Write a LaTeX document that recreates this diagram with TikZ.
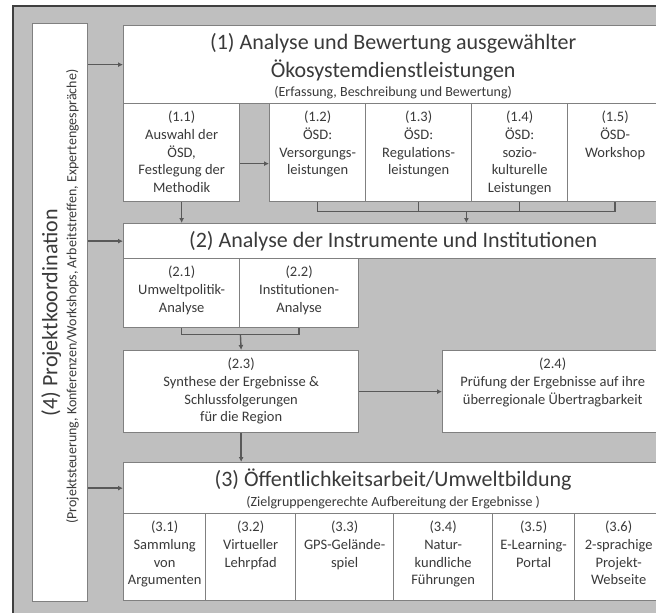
\documentclass[tikz,border=0pt]{standalone}
\usepackage{fontspec}
\setmainfont{Carlito}
\usetikzlibrary{arrows.meta,calc,positioning}
\definecolor{framegray}{HTML}{BFBFBF}
\definecolor{framedark}{HTML}{3F3F3F}
\definecolor{boxline}{HTML}{808080}
\definecolor{linkgray}{HTML}{595959}
\definecolor{textgray}{HTML}{3A3A3A}
\newcommand{\headfont}{\fontsize{22bp}{28bp}\selectfont}
\newcommand{\subfont}{\fontsize{14bp}{17.7bp}\selectfont}
\newcommand{\cellfont}{\fontsize{14.5bp}{17.7bp}\selectfont}
\newcommand{\cell}[3]{\parbox[c][#2][t]{#1}{\centering\rule{0pt}{18bp}#3}}

\begin{document}
\begin{tikzpicture}[x=1bp, y=-1bp,
  box/.style={draw=boxline, fill=white, line width=1.3bp, inner sep=0pt, anchor=north west, text=textgray, font=\cellfont},
  arr/.style={draw=linkgray, line width=1.4bp, -{Latex[length=5bp,width=5bp]}},
  brace/.style={draw=linkgray, line width=1.4bp}]
  \useasboundingbox (0,0) rectangle (656,613);
  \fill[framegray] (13,6) rectangle (670,620);
  \draw[framedark, line width=1.5bp] (13,625) -- (13,6) -- (670,6);

  % (4) Projektkoordination
  \node[box] (koord) at (32,23) {\parbox[c][578bp][c]{55bp}{\centering\rotatebox{90}{\parbox{570bp}{\centering\subfont
    {\headfont (4) Projektkoordination\hspace*{8bp}}\\[1.3bp]
    \hspace*{32bp}(Projektsteuerung, Konferenzen/Workshops, Arbeitstreffen, Expertengespräche)}}}};

  % (1)
  \node[box] (h1) at (123,25) {\cell{539bp}{78bp}{\headfont\rule{0pt}{24bp}(1) Analyse und Bewertung ausgewählter\\
    Ökosystemdienstleistungen\\[-9bp]{\subfont (Erfassung, Beschreibung und Bewertung)}}};
  \node[box] (b11) at (123,103) {\cell{116bp}{98bp}{(1.1)\\Auswahl der\\ÖSD,\\Festlegung der\\Methodik}};
  \node[box] (b12) at (269,103) {\cell{96bp}{98bp}{(1.2)\\ÖSD:\\Versorgungs-\\leistungen}};
  \node[box] (b13) at (365,103) {\cell{106bp}{98bp}{(1.3)\\ÖSD:\\Regulations-\\leistungen}};
  \node[box] (b14) at (471,103) {\cell{96bp}{98bp}{(1.4)\\ÖSD:\\sozio-\\kulturelle\\Leistungen}};
  \node[box] (b15) at (567,103) {\cell{95bp}{98bp}{(1.5)\\ÖSD-\\Workshop}};

  % (2)
  \node[box] (h2) at (123,223) {\cell{539bp}{35bp}{\headfont\rule{0pt}{23.5bp}(2) Analyse der Instrumente und Institutionen}};
  \node[box] (b21) at (123,258) {\cell{116bp}{69bp}{(2.1)\\Umweltpolitik-\\Analyse}};
  \node[box] (b22) at (239,258) {\cell{119bp}{69bp}{(2.2)\\Institutionen-\\Analyse}};
  \node[box] (b23) at (123,350) {\cell{235bp}{82bp}{(2.3)\\Synthese der Ergebnisse \&\\Schlussfolgerungen\\für die Region}};
  \node[box] (b24) at (442,350) {\cell{220bp}{82bp}{(2.4)\\Prüfung der Ergebnisse auf ihre\\überregionale Übertragbarkeit}};

  % (3)
  \node[box] (h3) at (123,462) {\cell{539bp}{51bp}{\headfont\rule{0pt}{24bp}(3) Öffentlichkeitsarbeit/Umweltbildung\\[-8.5bp]
    {\subfont (Zielgruppengerechte Aufbereitung der Ergebnisse )}}};
  \node[box] (b31) at (123,513) {\cell{82bp}{87bp}{(3.1)\\Sammlung\\von\\Argumenten}};
  \node[box] (b32) at (205,513) {\cell{90bp}{87bp}{(3.2)\\Virtueller\\Lehrpfad}};
  \node[box] (b33) at (295,513) {\cell{98bp}{87bp}{(3.3)\\GPS-Gelände-\\spiel}};
  \node[box] (b34) at (393,513) {\cell{99bp}{87bp}{(3.4)\\Natur-\\kundliche\\Führungen}};
  \node[box] (b35) at (492,513) {\cell{82bp}{87bp}{(3.5)\\E-Learning-\\Portal}};
  \node[box] (b36) at (574,513) {\cell{88bp}{87bp}{(3.6)\\2-sprachige\\Projekt-\\Webseite}};

  \draw[arr] (koord.east |- h1.west) -- (h1.west);
  \draw[arr] (koord.east |- h2.west) -- (h2.west);
  \draw[arr] (koord.east |- h3.west) -- (h3.west);
  \draw[arr] ([yshift=-11bp]b11.east) -- ([yshift=-11bp]b12.west);
  \draw[arr] (b11.south) -- (b11.south |- h2.north);
  \coordinate (j1) at ($(b12.south)!0.5!(b15.south)+(0,9)$);
  \draw[brace] (b12.south) -- ++(0,9) -| (b15.south);
  \draw[brace] (b13.south) -- (b13.south |- j1);
  \draw[brace] (b14.south) -- (b14.south |- j1);
  \draw[arr] (j1) -- (j1 |- h2.north);
  \coordinate (j2) at ($(b21.south)!0.5!(b22.south)+(0,6)$);
  \draw[brace] (b21.south) -- ++(0,6) -| (b22.south);
  \draw[arr] (j2) -- (b23.north);
  \draw[arr] (b23.east) -- (b24.west);
  \draw[arr] (b23.south) -- (b23.south |- h3.north);
\end{tikzpicture}
\end{document}
